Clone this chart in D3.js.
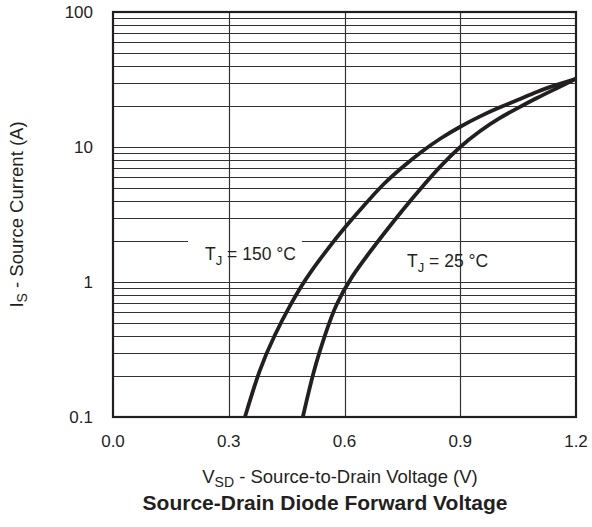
<!DOCTYPE html>
<html>
<head>
<meta charset="utf-8">
<script src="https://cdn.jsdelivr.net/npm/d3@7"></script>
<style>
  body { margin: 0; background: #fff; }
  text { font-family: "Liberation Sans", Arial, Helvetica, sans-serif; fill: #231f20; }
</style>
</head>
<body>
<svg id="chart" width="592" height="527"></svg>
<script>
// values (V, A)
var vsd150 = [0.342, 0.38, 0.42, 0.46, 0.50, 0.55, 0.60, 0.65, 0.70, 0.75, 0.80, 0.85, 0.90, 0.95, 1.00, 1.05, 1.10, 1.15, 1.20];
var is150  = [0.1, 0.219, 0.407, 0.676, 1.05, 1.66, 2.51, 3.67, 5.25, 7.08, 9.23, 11.61, 14.13, 16.79, 19.5, 22.39, 25.7, 28.84, 32.0];
var vsd25  = [0.492, 0.52, 0.55, 0.58, 0.62, 0.66, 0.70, 0.75, 0.80, 0.85, 0.90, 0.95, 1.00, 1.05, 1.10, 1.15, 1.20];
var is25   = [0.1, 0.214, 0.407, 0.684, 1.096, 1.585, 2.239, 3.388, 5.012, 7.244, 10.0, 13.03, 16.22, 19.5, 23.17, 27.23, 32.0];
var xTicks = [0.0, 0.3, 0.6, 0.9, 1.2];
var yTicks = [0.1, 1, 10, 100];

var margin = {top: 12, right: 16, bottom: 110, left: 113};
var width = 592 - margin.left - margin.right,
    height = 527 - margin.top - margin.bottom;

var svg = d3.select("#chart");
var g = svg.append("g")
    .attr("transform", "translate(" + margin.left + "," + margin.top + ")");

var x = d3.scaleLinear().domain([0, 1.2]).range([0, width]);
var y = d3.scaleLog().domain([0.1, 100]).range([height, 0]);

// layers: horizontal grid, label boxes, vertical grid, curves, frame, text
var hLayer = g.append("g"),
    boxLayer = g.append("g"),
    vLayer = g.append("g"),
    curveLayer = g.append("g"),
    textLayer = g.append("g");

// horizontal grid: 1..9 in each decade
var gridVals = [];
for (var d = 0.1; d < 100; d *= 10) {
    for (var k = 1; k < 10; k++) gridVals.push(+(d * k).toPrecision(3));
}
hLayer.selectAll("line")
    .data(gridVals)
    .enter().append("line")
    .attr("x1", 0).attr("x2", width)
    .attr("y1", function(v) { return Math.round(y(v)) + 0.5; })
    .attr("y2", function(v) { return Math.round(y(v)) + 0.5; })
    .attr("stroke", "#333")
    .attr("stroke-width", 1.2);

vLayer.selectAll("line")
    .data(xTicks.slice(1, -1))
    .enter().append("line")
    .attr("x1", function(v) { return Math.round(x(v)) + 0.5; })
    .attr("x2", function(v) { return Math.round(x(v)) + 0.5; })
    .attr("y1", 0).attr("y2", height)
    .attr("stroke", "#333")
    .attr("stroke-width", 1.2);

// curves
var line = d3.line()
    .x(function(p) { return x(p[0]); })
    .y(function(p) { return y(p[1]); })
    .curve(d3.curveNatural);

[[vsd150, is150], [vsd25, is25]].forEach(function(s) {
    curveLayer.append("path")
        .datum(d3.zip(s[0], s[1]))
        .attr("d", line)
        .attr("fill", "none")
        .attr("stroke", "#231f20")
        .attr("stroke-width", 3.8);
});

// frame
curveLayer.append("rect")
    .attr("width", width).attr("height", height)
    .attr("fill", "none")
    .attr("stroke", "#231f20")
    .attr("stroke-width", 2.2);

// tick labels
textLayer.selectAll(".xt")
    .data(xTicks)
    .enter().append("text")
    .attr("x", function(v) { return x(v); })
    .attr("y", height + 30)
    .attr("text-anchor", "middle")
    .attr("font-size", 17)
    .text(function(v) { return v.toFixed(1); });

textLayer.selectAll(".yt")
    .data(yTicks)
    .enter().append("text")
    .attr("x", -20)
    .attr("y", function(v) { return y(v) + 6; })
    .attr("text-anchor", "end")
    .attr("font-size", 17)
    .text(function(v) { return v; });

// curve labels with white boxes behind
function tjLabel(v, i, temp, padL, padR) {
    var t = textLayer.append("text").attr("x", x(v)).attr("y", y(i)).attr("font-size", 17.5);
    t.append("tspan").text("T");
    t.append("tspan").attr("dy", 5).attr("font-size", 13).text("J");
    t.append("tspan").attr("dy", -5).text(" = " + temp + " °C");
    var b = t.node().getBBox();
    boxLayer.append("rect")
        .attr("x", b.x - padL).attr("y", b.y - 6)
        .attr("width", b.width + padL + padR).attr("height", b.height + 8)
        .attr("fill", "#fff");
}
tjLabel(0.2385, 1.456, "150", 17, 6);
tjLabel(0.762, 1.29, "25", 14, 12);

// axis titles
var xt = svg.append("text")
    .attr("x", 340).attr("y", 483)
    .attr("text-anchor", "middle")
    .attr("font-size", 18.5);
xt.append("tspan").text("V");
xt.append("tspan").attr("dy", 4).attr("font-size", 14).text("SD");
xt.append("tspan").attr("dy", -4).text(" - Source-to-Drain Voltage (V)");

var yt = svg.append("text")
    .attr("transform", "translate(23," + (margin.top + height / 2) + ") rotate(-90)")
    .attr("text-anchor", "middle")
    .attr("font-size", 18.5);
yt.append("tspan").text("I");
yt.append("tspan").attr("dy", 4).attr("font-size", 14).text("S");
yt.append("tspan").attr("dy", -4).text(" - Source Current (A)");

svg.append("text")
    .attr("x", 325).attr("y", 510)
    .attr("text-anchor", "middle")
    .attr("font-size", 21)
    .attr("font-weight", "bold")
    .text("Source-Drain Diode Forward Voltage");
</script>
</body>
</html>
